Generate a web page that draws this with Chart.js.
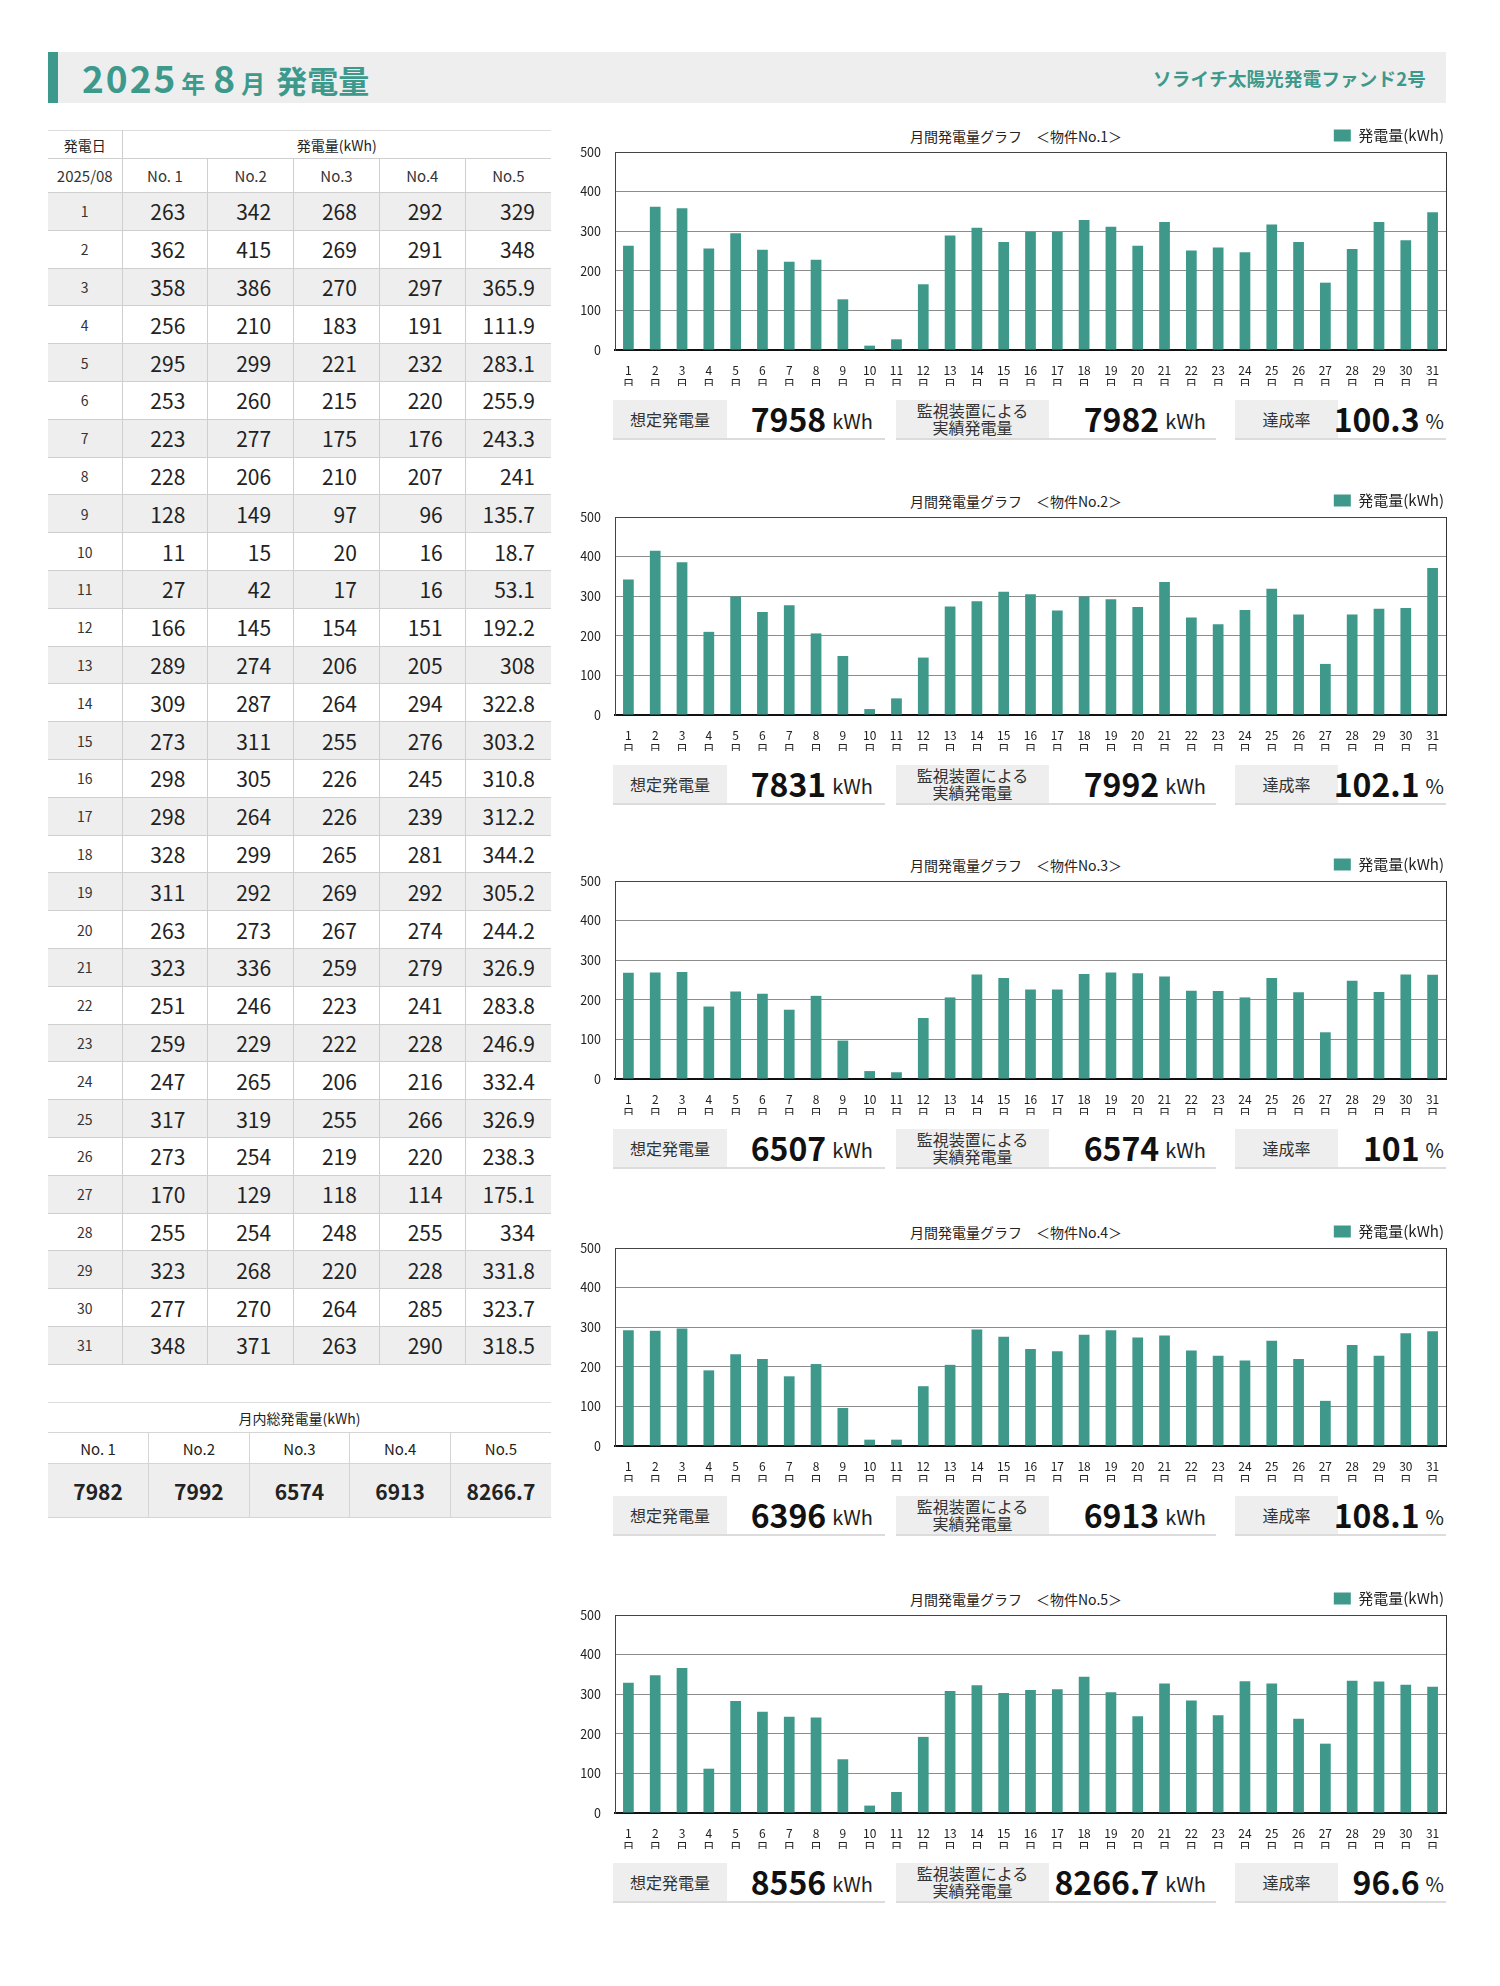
<!DOCTYPE html>
<html lang="ja">
<head>
<meta charset="utf-8">
<title>2025年8月 発電量</title>
<script src="https://cdn.jsdelivr.net/npm/chart.js@4.4.1/dist/chart.umd.min.js"></script>
<style>
  body { margin: 0; background: #fff; font-family: "Noto Sans CJK JP", "Noto Sans", sans-serif; color: #222; }
  .page { position: relative; width: 1500px; height: 1986px; overflow: hidden; }
  .header { position: absolute; left: 48px; top: 52px; width: 1388px; height: 51px; background: #eeeeee; border-left: 10px solid #3d998b; }
  .header .ttl { position: absolute; left: 24px; top: -2px; color: #3d998b; font-weight: bold; white-space: nowrap; }
  .header .ttl .big { font-size: 37px; letter-spacing: 2px; }
  .header .ttl .mid { font-size: 24px; margin: 0 8px 0 4px; }
  .header .ttl .kan { font-size: 31px; margin-left: 3px; }
  .header .fund { position: absolute; right: 20px; top: 13px; color: #3d998b; font-weight: bold; font-size: 18.5px; letter-spacing: 0.2px; }

  table { border-collapse: collapse; table-layout: fixed; position: absolute; }
  #daily { left: 48px; top: 130px; width: 503px; }
  #daily td, #daily th { border-bottom: 1px solid #cfcfcf; padding: 0; font-weight: normal; }
  #daily tr.h1 th { height: 27px; font-size: 14px; border-top: 1px solid #ddd; }
  #daily tr.h2 th { height: 33px; font-size: 15px; color: #333; }
  #daily tr.h2 th + th, #daily td + td { border-left: 1px solid #cfcfcf; }
  #daily th.dcol { border-right: 1px solid #cfcfcf; }
  #daily td { height: 36.8px; font-size: 21px; text-align: right; padding-right: 22px; }
  #daily td.day { text-align: center; font-size: 14px; padding-right: 0; color: #333; }
  #daily td.last { padding-right: 16px; }
  #daily tr.odd td { background: #eeeeee; }

  #totals { left: 48px; top: 1402px; width: 503px; }
  #totals th, #totals td { padding: 0; text-align: center; font-weight: normal; border-bottom: 1px solid #d5d5d5; }
  #totals tr.t1 th { height: 29px; font-size: 14px; border-top: 1px solid #ddd; }
  #totals tr.t2 th { height: 30px; font-size: 15px; }
  #totals tr.t2 th + th, #totals td + td { border-left: 1px solid #d5d5d5; }
  #totals td { height: 53px; font-size: 21px; font-weight: bold; background: #eeeeee; }

  .chartbox { position: absolute; left: 560px; width: 892px; height: 264px; }
  .ctitle { position: absolute; left: 816px; width: 400px; text-align: center; font-size: 14px; line-height: 18px; color: #222; }
  .sum { position: absolute; height: 38px; border-bottom: 2px solid #dcdcdc; }
  .sum .lab { position: absolute; left: 0; top: 0; height: 38px; background: #eeeeee; display: flex; align-items: center; justify-content: center; text-align: center; font-size: 16px; line-height: 17px; color: #333; }
  .sum .val { position: absolute; right: 0; top: 0; height: 38px; display: flex; align-items: flex-end; justify-content: flex-end; white-space: nowrap; }
  .sum .num { font-size: 32px; font-weight: bold; line-height: 40px; color: #111; }
  .sum .unit { font-size: 20px; line-height: 34px; margin-left: 6px; color: #222; }
</style>
</head>
<body>
<div class="page">
  <div class="header">
    <div class="ttl"><span class="big">2025</span><span class="mid">年</span><span class="big">8</span><span class="mid">月</span><span class="kan">発電量</span></div>
    <div class="fund">ソライチ太陽光発電ファンド2号</div>
  </div>
  <table id="daily"></table>
  <table id="totals"></table>
  <div id="charts"></div>
</div>
<script>
// --- data ---
const days = [1, 2, 3, 4, 5, 6, 7, 8, 9, 10, 11, 12, 13, 14, 15, 16, 17, 18, 19, 20, 21, 22, 23, 24, 25, 26, 27, 28, 29, 30, 31];
const siteNames = ['No.1', 'No.2', 'No.3', 'No.4', 'No.5'];

const no1 = [263, 362, 358, 256, 295, 253, 223, 228, 128, 11, 27, 166, 289, 309, 273, 298, 298, 328, 311, 263, 323, 251, 259, 247, 317, 273, 170, 255, 323, 277, 348];
const no2 = [342, 415, 386, 210, 299, 260, 277, 206, 149, 15, 42, 145, 274, 287, 311, 305, 264, 299, 292, 273, 336, 246, 229, 265, 319, 254, 129, 254, 268, 270, 371];
const no3 = [268, 269, 270, 183, 221, 215, 175, 210, 97, 20, 17, 154, 206, 264, 255, 226, 226, 265, 269, 267, 259, 223, 222, 206, 255, 219, 118, 248, 220, 264, 263];
const no4 = [292, 291, 297, 191, 232, 220, 176, 207, 96, 16, 16, 151, 205, 294, 276, 245, 239, 281, 292, 274, 279, 241, 228, 216, 266, 220, 114, 255, 228, 285, 290];
const no5 = [329, 348, 365.9, 111.9, 283.1, 255.9, 243.3, 241, 135.7, 18.7, 53.1, 192.2, 308, 322.8, 303.2, 310.8, 312.2, 344.2, 305.2, 244.2, 326.9, 283.8, 246.9, 332.4, 326.9, 238.3, 175.1, 334, 331.8, 323.7, 318.5];

const monthTotals = ['7982', '7992', '6574', '6913', '8266.7'];
const planned = ['7958', '7831', '6507', '6396', '8556'];
const actual = ['7982', '7992', '6574', '6913', '8266.7'];
const achieveRate = ['100.3', '102.1', '101', '108.1', '96.6'];

const yTicks = [0, 100, 200, 300, 400, 500];

const series = [no1, no2, no3, no4, no5];
const barColor = '#3e998b';

// --- daily table ---
const daily = document.getElementById('daily');
let html = '<colgroup><col style="width:74px">' + siteNames.map(() => '<col>').join('') + '</colgroup>';
html += '<tr class="h1"><th class="dcol">発電日</th><th colspan="5">発電量(kWh)</th></tr>';
html += '<tr class="h2"><th>2025/08</th>' + siteNames.map(n => '<th>' + n.replace('No.1', 'No. 1') + '</th>').join('') + '</tr>';
days.forEach((d, i) => {
    html += '<tr class="' + (i % 2 === 0 ? 'odd' : '') + '"><td class="day">' + d + '</td>';
    series.forEach((s, k) => {
        html += '<td' + (k === 4 ? ' class="last"' : '') + '>' + s[i] + '</td>';
    });
    html += '</tr>';
});
daily.innerHTML = html;

// --- totals table ---
const totals = document.getElementById('totals');
totals.innerHTML =
    '<tr class="t1"><th colspan="5">月内総発電量(kWh)</th></tr>' +
    '<tr class="t2">' + siteNames.map(n => '<th>' + n.replace('No.1', 'No. 1') + '</th>').join('') + '</tr>' +
    '<tr>' + monthTotals.map(v => '<td>' + v + '</td>').join('') + '</tr>';

// --- charts ---
const plotTops = [152, 517, 881, 1248, 1615];
const chartsEl = document.getElementById('charts');

// right-hand frame line of the plot area
const frameRight = {
    id: 'frameRight',
    afterDraw(chart) {
        const { ctx, chartArea } = chart;
        ctx.save();
        ctx.strokeStyle = '#333';
        ctx.lineWidth = 1;
        ctx.beginPath();
        ctx.moveTo(chartArea.right + 0.5, chartArea.top);
        ctx.lineTo(chartArea.right + 0.5, chartArea.bottom);
        ctx.stroke();
        ctx.restore();
    }
};

// fixed legend height so plot top lands in the same place every time
const fixedLegend = {
    id: 'fixedLegend',
    beforeInit(chart) {
        const origFit = chart.legend.fit;
        chart.legend.fit = function () {
            origFit.bind(chart.legend)();
            this.height = 26;
        };
    }
};

series.forEach((data, i) => {
    const top = plotTops[i];

    const title = document.createElement('div');
    title.className = 'ctitle';
    title.style.top = (top - 25) + 'px';
    title.textContent = '月間発電量グラフ　＜物件' + siteNames[i] + '＞';
    chartsEl.appendChild(title);

    const box = document.createElement('div');
    box.className = 'chartbox';
    box.style.top = (top - 30) + 'px';
    const cv = document.createElement('canvas');
    box.appendChild(cv);
    chartsEl.appendChild(box);

    new Chart(cv.getContext('2d'), {
        type: 'bar',
        data: {
            labels: days.map(d => [String(d), '日']),
            datasets: [{
                label: '発電量(kWh)',
                data: data,
                backgroundColor: barColor,
                borderWidth: 0,
                categoryPercentage: 1.0,
                barPercentage: 0.4
            }]
        },
        options: {
            responsive: true,
            maintainAspectRatio: false,
            animation: false,
            layout: { padding: { right: 6, left: 0, top: 4, bottom: 0 } },
            plugins: {
                legend: {
                    position: 'top',
                    align: 'end',
                    labels: {
                        boxWidth: 17,
                        boxHeight: 12,
                        padding: 2,
                        color: '#222',
                        font: { family: '"Noto Sans CJK JP"', size: 15 }
                    }
                },
                tooltip: { enabled: false }
            },
            scales: {
                x: {
                    grid: { display: false },
                    border: { color: '#111', width: 2 },
                    ticks: {
                        autoSkip: false,
                        maxRotation: 0,
                        padding: 6,
                        color: '#222',
                        font: { family: '"Liberation Sans Narrow", "Noto Sans CJK JP"', size: 12, lineHeight: 1.15 }
                    },
                    afterFit(scale) { scale.height = 36; }
                },
                y: {
                    min: 0,
                    max: 500,
                    afterBuildTicks(scale) { scale.ticks = yTicks.map(v => ({ value: v })); },
                    grid: { color: ctx => (ctx.tick && ctx.tick.value === 500 ? '#444' : '#8c8c8c'), lineWidth: 1, drawTicks: false },
                    border: { color: '#444', width: 1 },
                    ticks: {
                        padding: 14,
                        color: '#222',
                        font: { family: '"Liberation Sans Narrow", "Noto Sans CJK JP"', size: 12.5 }
                    },
                    afterFit(scale) { scale.width = 55; }
                }
            }
        },
        plugins: [frameRight, fixedLegend]
    });

    // summary row under each chart
    const sumTop = top + 248;
    const groups = [
        { left: 613, width: 272, labW: 114, label: '想定発電量', num: planned[i], unit: 'kWh', pad: 12 },
        { left: 896, width: 320, labW: 153, label: '監視装置による<br>実績発電量', num: actual[i], unit: 'kWh', pad: 10 },
        { left: 1235, width: 211, labW: 103, label: '達成率', num: achieveRate[i], unit: '%', pad: 2 }
    ];
    groups.forEach(g => {
        const s = document.createElement('div');
        s.className = 'sum';
        s.style.left = g.left + 'px';
        s.style.top = sumTop + 'px';
        s.style.width = g.width + 'px';
        s.innerHTML = '<div class="lab" style="width:' + g.labW + 'px">' + g.label + '</div>' +
            '<div class="val" style="padding-right:' + g.pad + 'px"><span class="num">' + g.num + '</span><span class="unit">' + g.unit + '</span></div>';
        chartsEl.appendChild(s);
    });
});
</script>
</body>
</html>
